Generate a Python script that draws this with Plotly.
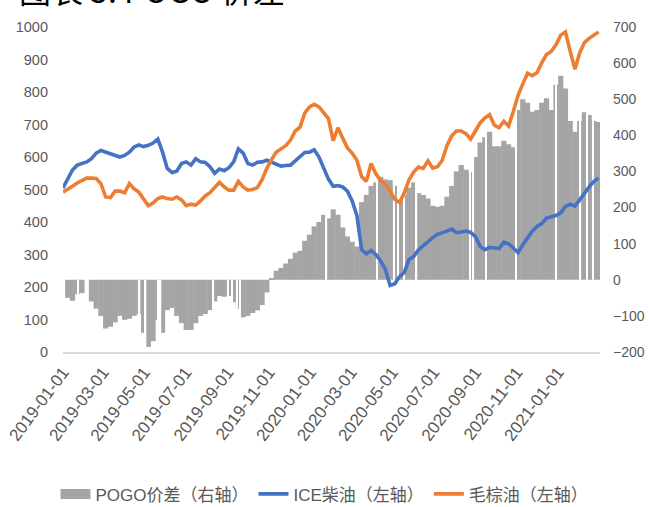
import plotly.graph_objects as go
import pandas as pd
import numpy as np

obs_dates = pd.date_range("2019-01-01", periods=114, freq="7D")

ice_gasoil = [505,530,560,575,580,585,595,612,620,615,
              612,606,600,605,615,631,637,632,636,643,
              655,615,565,552,556,580,585,575,595,585,
              583,570,550,563,558,567,585,625,612,580,
              575,584,585,590,584,577,572,574,575,588,
              603,614,615,622,600,565,532,510,512,508,
              495,465,420,315,302,312,300,280,255,205,
              210,232,245,285,294,315,328,340,352,362,
              366,372,378,367,369,372,368,355,325,315,
              322,320,318,338,333,320,306,330,350,372,
              386,395,412,416,420,428,448,455,449,468,
              490,508,525,535]

palm_oil = [492,500,510,520,528,535,535,534,518,477,
            475,495,495,490,518,502,492,472,450,458,
            472,477,472,470,477,468,450,455,452,465,
            480,490,508,522,508,498,498,525,508,498,
            500,506,530,565,592,615,625,635,652,680,
            692,735,754,762,754,738,718,650,690,658,
            628,612,590,540,525,580,548,528,515,495,
            470,460,490,530,554,569,565,588,566,570,
            590,635,665,680,680,672,655,680,705,720,
            730,698,690,710,695,740,790,825,858,850,
            860,890,915,925,945,975,985,925,870,920,
            952,965,975,985]

pogo_spread = [None,-50,-58,-40,-37,None,-60,-80,-100,-135,
               -130,-118,-100,-111,-108,-100,-95,-147,-186,-170,
               -111,-147,-84,-78,-100,-120,-139,-139,-120,-100,
               -95,-84,-60,-45,-47,-45,-62,-80,-104,-100,
               -92,-85,-70,-35,5,25,33,45,58,75,
               80,108,125,148,160,180,170,195,180,145,
               120,105,92,215,235,260,270,285,278,276,
               260,215,235,255,270,240,235,225,205,202,
               205,230,260,300,318,305,298,340,380,395,
               410,370,370,385,375,367,470,500,490,465,
               470,490,503,470,540,565,530,440,410,440,
               464,456,440,437]

# days with no spread quote (white gaps in the grey area)
missing_spread_dates = ["2019-01-23","2019-04-24","2019-05-03","2019-05-21","2019-05-25",
                        "2019-08-11","2019-09-02","2019-09-08","2019-09-15","2019-09-19",
                        "2020-01-25","2020-04-09","2020-05-04","2020-05-10","2020-05-19",
                        "2020-06-06","2020-08-24","2020-08-29","2020-09-17","2020-10-31",
                        "2020-12-29","2021-02-03","2021-02-13","2021-02-22"]

tick_labels = ["2019-01-01","2019-03-01","2019-05-01","2019-07-01","2019-09-01",
               "2019-11-01","2020-01-01","2020-03-01","2020-05-01","2020-07-01",
               "2020-09-01","2020-11-01","2021-01-01"]

left_ticks = [0,100,200,300,400,500,600,700,800,900,1000]
right_ticks = [-200,-100,0,100,200,300,400,500,600,700]

# ---------------- derived ----------------
DAY_MS = 86400000
spread_arr = np.array([np.nan if v is None else v for v in pogo_spread], dtype=float)
gap_dt = pd.to_datetime(missing_spread_dates)
gap_vals = []
for g in gap_dt:
    i = int(np.searchsorted(obs_dates.values, np.datetime64(g)))
    cands = [spread_arr[j] for j in (i - 1, i) if 0 <= j < len(spread_arr) and not np.isnan(spread_arr[j])]
    gap_vals.append(max(cands, key=abs) if cands else 0)

FONT = "Liberation Sans, Arial, Noto Sans CJK SC, sans-serif"
GREY_TXT = "#595959"
GREY_BAR = "#A5A5A5"

fig = go.Figure()
fig.add_trace(go.Bar(x=obs_dates, y=pogo_spread, yaxis="y", width=[7.7 * DAY_MS] * len(obs_dates),
                     marker=dict(color=GREY_BAR, line=dict(width=0)),
                     showlegend=False, name="POGO价差（右轴）"))
fig.add_trace(go.Bar(x=gap_dt, y=gap_vals, yaxis="y", width=[2.2 * DAY_MS] * len(gap_dt),
                     marker=dict(color="white", line=dict(width=0)), showlegend=False,
                     hoverinfo="skip"))
fig.add_trace(go.Scatter(x=[None], y=[None], yaxis="y", mode="lines",
                         line=dict(color=GREY_BAR, width=12), name="POGO价差（右轴）"))
fig.add_trace(go.Scatter(x=obs_dates, y=ice_gasoil, yaxis="y2", mode="lines",
                         line=dict(color="#4472C4", width=3.6), name="ICE柴油（左轴）"))
fig.add_trace(go.Scatter(x=obs_dates, y=palm_oil, yaxis="y2", mode="lines",
                         line=dict(color="#ED7D31", width=3.6), name="毛棕油（左轴）"))

fig.update_layout(
    width=649, height=507,
    margin=dict(l=63, r=49, t=27, b=155, autoexpand=False),
    paper_bgcolor="white", plot_bgcolor="white",
    barmode="overlay",
    font=dict(family=FONT, color=GREY_TXT),
    xaxis=dict(type="date", range=["2019-01-01", "2021-03-04"],
               tickvals=tick_labels, ticktext=tick_labels, tickangle=-53,
               tickfont=dict(size=17, color=GREY_TXT, family=FONT),
               showline=True, linecolor="#D9D9D9", linewidth=1.5,
               showgrid=False, zeroline=False, ticks="", ticklabelstandoff=2,
               ticklabeloverflow="allow", automargin=False),
    yaxis=dict(side="right", range=[-200, 700], tickvals=right_ticks,
               tickfont=dict(size=14, color=GREY_TXT, family=FONT),
               showgrid=False, zeroline=False, showline=False, ticks="",
               ticklabelstandoff=12, ticklabeloverflow="allow", automargin=False),
    yaxis2=dict(side="left", overlaying="y", range=[0, 1000], tickvals=left_ticks,
                tickfont=dict(size=14.5, color=GREY_TXT, family=FONT),
                showgrid=False, zeroline=False, showline=False, ticks="",
                ticklabelstandoff=14, ticklabeloverflow="allow", automargin=False),
    legend=dict(orientation="h", xref="container", yref="container",
                x=0.5, xanchor="center", y=0.025, yanchor="middle",
                font=dict(size=17, color=GREY_TXT, family=FONT),
                itemwidth=30, tracegroupgap=0),
    annotations=[dict(text="图表 5: POGO 价差", xref="paper", yref="paper",
                      x=-0.085, y=1.041, xanchor="left", yanchor="bottom",
                      showarrow=False,
                      font=dict(size=32, color="#000000", family="Noto Sans CJK SC, sans-serif"))],
)

fig.write_html("out.html", config={"displayModeBar": False},
               post_script="document.body.style.margin='0';document.body.style.overflow='hidden';")
